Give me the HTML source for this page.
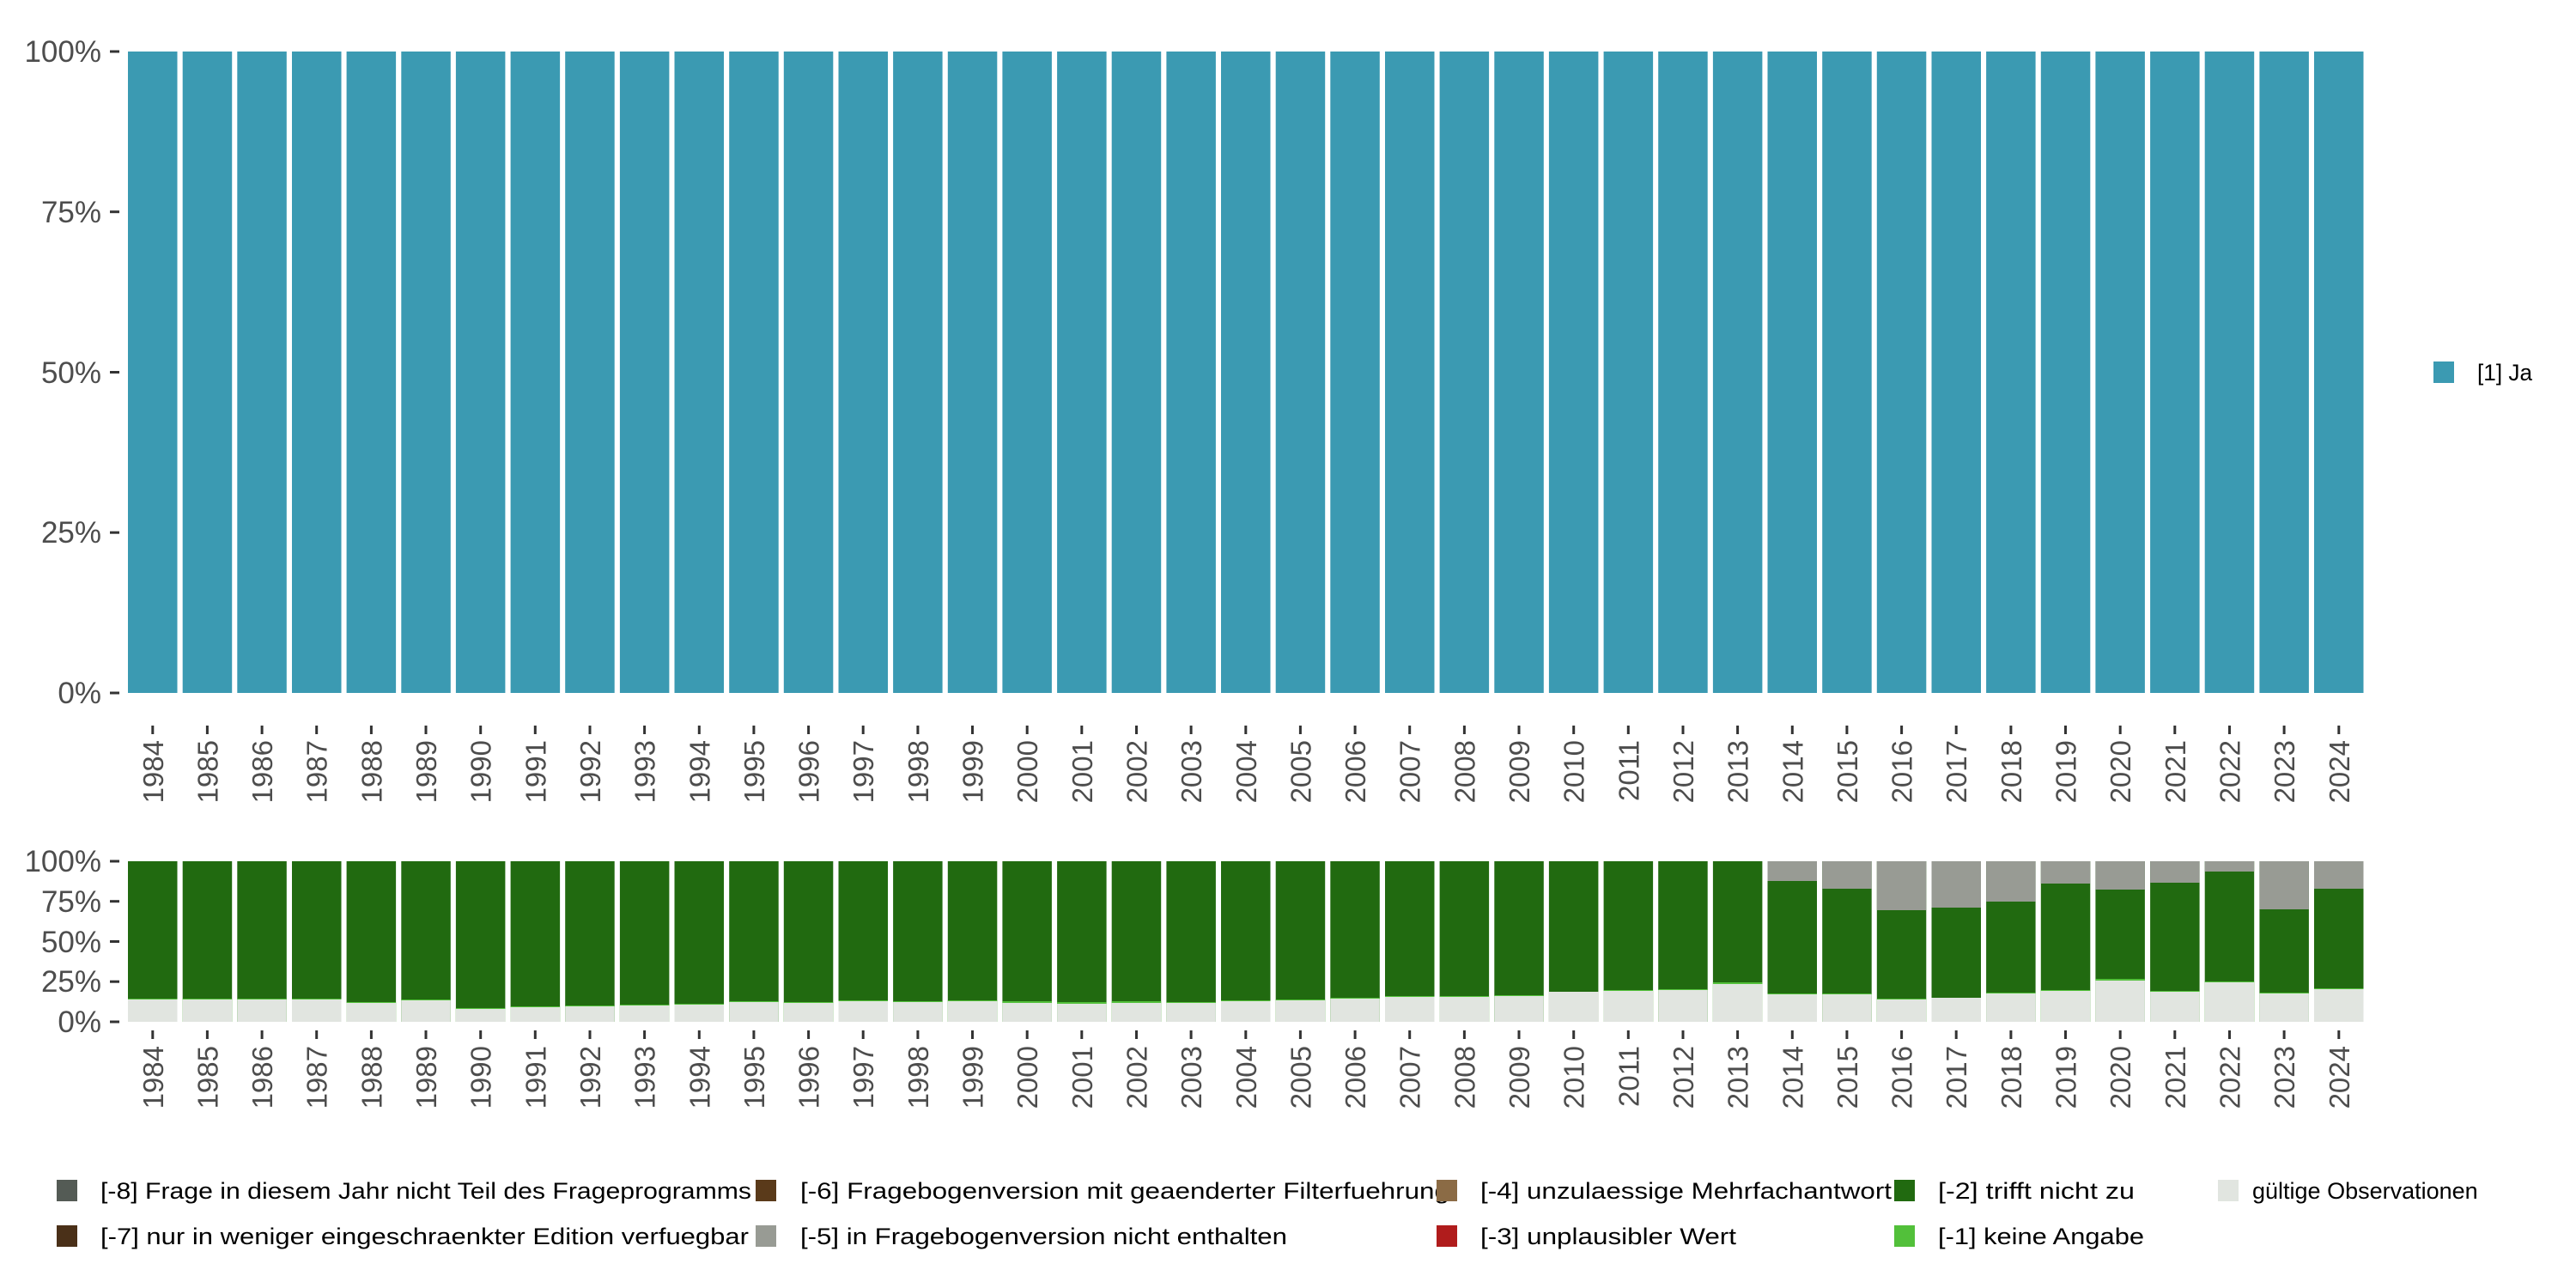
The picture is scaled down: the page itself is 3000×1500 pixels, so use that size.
<!DOCTYPE html>
<html><head><meta charset="utf-8"><style>
html,body{margin:0;padding:0;background:#fff;}
svg{display:block;font-family:"Liberation Sans",sans-serif;}
.yl{font-size:35px;fill:#4d4d4d;text-anchor:end;}
.xl{font-size:33px;fill:#4d4d4d;text-anchor:end;}
.lg{font-size:27px;fill:#000;}
</style></head><body>
<svg width="3000" height="1500" viewBox="0 0 3000 1500" xmlns="http://www.w3.org/2000/svg">
<defs>
<rect id="tb" x="0" y="60" width="57.5" height="747" fill="#3b9ab2"/>
<rect id="bg" x="0" y="1003" width="57.5" height="187" fill="#216a10"/>
<rect id="tk1" x="-1.5" y="845" width="3" height="10" fill="#333"/>
<rect id="tk2" x="-1.5" y="1200" width="3" height="10" fill="#333"/>
</defs>
<g fill="#333">
<rect x="128" y="58.5" width="11" height="3"/><rect x="128" y="245.2" width="11" height="3"/><rect x="128" y="432" width="11" height="3"/><rect x="128" y="618.7" width="11" height="3"/><rect x="128" y="805.5" width="11" height="3"/>
<rect x="128" y="1001.5" width="11" height="3"/><rect x="128" y="1048.2" width="11" height="3"/><rect x="128" y="1095" width="11" height="3"/><rect x="128" y="1141.7" width="11" height="3"/><rect x="128" y="1188.5" width="11" height="3"/>
</g>
<g class="yl">
<text x="118" y="72">100%</text><text x="118" y="259">75%</text><text x="118" y="446">50%</text><text x="118" y="632">25%</text><text x="118" y="819">0%</text>
<text x="118" y="1015">100%</text><text x="118" y="1062">75%</text><text x="118" y="1109">50%</text><text x="118" y="1155">25%</text><text x="118" y="1202">0%</text>
</g>
<g>
<use href="#tb" x="149.0"/><use href="#tb" x="212.7"/><use href="#tb" x="276.3"/><use href="#tb" x="340.0"/><use href="#tb" x="403.6"/><use href="#tb" x="467.3"/><use href="#tb" x="530.9"/><use href="#tb" x="594.6"/><use href="#tb" x="658.2"/><use href="#tb" x="721.9"/><use href="#tb" x="785.5"/><use href="#tb" x="849.2"/><use href="#tb" x="912.8"/><use href="#tb" x="976.5"/><use href="#tb" x="1040.1"/><use href="#tb" x="1103.8"/><use href="#tb" x="1167.4"/><use href="#tb" x="1231.1"/><use href="#tb" x="1294.7"/><use href="#tb" x="1358.4"/><use href="#tb" x="1422.0"/><use href="#tb" x="1485.7"/><use href="#tb" x="1549.3"/><use href="#tb" x="1613.0"/><use href="#tb" x="1676.6"/><use href="#tb" x="1740.3"/><use href="#tb" x="1803.9"/><use href="#tb" x="1867.6"/><use href="#tb" x="1931.2"/><use href="#tb" x="1994.9"/><use href="#tb" x="2058.5"/><use href="#tb" x="2122.2"/><use href="#tb" x="2185.8"/><use href="#tb" x="2249.5"/><use href="#tb" x="2313.1"/><use href="#tb" x="2376.8"/><use href="#tb" x="2440.4"/><use href="#tb" x="2504.1"/><use href="#tb" x="2567.7"/><use href="#tb" x="2631.4"/><use href="#tb" x="2695.0"/>
</g>
<g>
<use href="#bg" x="149.0"/><use href="#bg" x="212.7"/><use href="#bg" x="276.3"/><use href="#bg" x="340.0"/><use href="#bg" x="403.6"/><use href="#bg" x="467.3"/><use href="#bg" x="530.9"/><use href="#bg" x="594.6"/><use href="#bg" x="658.2"/><use href="#bg" x="721.9"/><use href="#bg" x="785.5"/><use href="#bg" x="849.2"/><use href="#bg" x="912.8"/><use href="#bg" x="976.5"/><use href="#bg" x="1040.1"/><use href="#bg" x="1103.8"/><use href="#bg" x="1167.4"/><use href="#bg" x="1231.1"/><use href="#bg" x="1294.7"/><use href="#bg" x="1358.4"/><use href="#bg" x="1422.0"/><use href="#bg" x="1485.7"/><use href="#bg" x="1549.3"/><use href="#bg" x="1613.0"/><use href="#bg" x="1676.6"/><use href="#bg" x="1740.3"/><use href="#bg" x="1803.9"/><use href="#bg" x="1867.6"/><use href="#bg" x="1931.2"/><use href="#bg" x="1994.9"/><use href="#bg" x="2058.5"/><use href="#bg" x="2122.2"/><use href="#bg" x="2185.8"/><use href="#bg" x="2249.5"/><use href="#bg" x="2313.1"/><use href="#bg" x="2376.8"/><use href="#bg" x="2440.4"/><use href="#bg" x="2504.1"/><use href="#bg" x="2567.7"/><use href="#bg" x="2631.4"/><use href="#bg" x="2695.0"/>
</g>
<g fill="#52c03a">
<rect x="149.0" y="1163" width="57.5" height="27"/><rect x="212.7" y="1163" width="57.5" height="27"/><rect x="276.3" y="1163" width="57.5" height="27"/><rect x="340.0" y="1163" width="57.5" height="27"/>
<rect x="403.6" y="1167" width="57.5" height="23"/><rect x="467.3" y="1164" width="57.5" height="26"/><rect x="530.9" y="1174" width="57.5" height="16"/><rect x="594.6" y="1172" width="57.5" height="18"/>
<rect x="658.2" y="1171" width="57.5" height="19"/><rect x="721.9" y="1170" width="57.5" height="20"/><rect x="785.5" y="1169" width="57.5" height="21"/><rect x="849.2" y="1166" width="57.5" height="24"/>
<rect x="912.8" y="1167" width="57.5" height="23"/><rect x="976.5" y="1165" width="57.5" height="25"/><rect x="1040.1" y="1166" width="57.5" height="24"/><rect x="1103.8" y="1165" width="57.5" height="25"/>
<rect x="1167.4" y="1166" width="57.5" height="24"/><rect x="1231.1" y="1167" width="57.5" height="23"/><rect x="1294.7" y="1166" width="57.5" height="24"/><rect x="1358.4" y="1167" width="57.5" height="23"/>
<rect x="1422.0" y="1165" width="57.5" height="25"/><rect x="1485.7" y="1164" width="57.5" height="26"/><rect x="1549.3" y="1162" width="57.5" height="28"/><rect x="1613.0" y="1160" width="57.5" height="30"/>
<rect x="1676.6" y="1160" width="57.5" height="30"/><rect x="1740.3" y="1159" width="57.5" height="31"/><rect x="1867.6" y="1153" width="57.5" height="37"/>
<rect x="1931.2" y="1152" width="57.5" height="38"/><rect x="1994.9" y="1144" width="57.5" height="46"/><rect x="2058.5" y="1157" width="57.5" height="33"/><rect x="2122.2" y="1157" width="57.5" height="33"/>
<rect x="2185.8" y="1163" width="57.5" height="27"/><rect x="2313.1" y="1156" width="57.5" height="34"/><rect x="2376.8" y="1153" width="57.5" height="37"/>
<rect x="2440.4" y="1140" width="57.5" height="50"/><rect x="2504.1" y="1154" width="57.5" height="36"/><rect x="2567.7" y="1143" width="57.5" height="47"/><rect x="2631.4" y="1156" width="57.5" height="34"/><rect x="2695.0" y="1151" width="57.5" height="39"/>
</g>
<g fill="#e1e5e0">
<rect x="149.0" y="1164" width="57.5" height="26"/><rect x="212.7" y="1164" width="57.5" height="26"/><rect x="276.3" y="1164" width="57.5" height="26"/><rect x="340.0" y="1164" width="57.5" height="26"/>
<rect x="403.6" y="1168" width="57.5" height="22"/><rect x="467.3" y="1165" width="57.5" height="25"/><rect x="530.9" y="1175" width="57.5" height="15"/><rect x="594.6" y="1173" width="57.5" height="17"/>
<rect x="658.2" y="1172" width="57.5" height="18"/><rect x="721.9" y="1171" width="57.5" height="19"/><rect x="785.5" y="1170" width="57.5" height="20"/><rect x="849.2" y="1167" width="57.5" height="23"/>
<rect x="912.8" y="1168" width="57.5" height="22"/><rect x="976.5" y="1166" width="57.5" height="24"/><rect x="1040.1" y="1167" width="57.5" height="23"/><rect x="1103.8" y="1166" width="57.5" height="24"/>
<rect x="1167.4" y="1168" width="57.5" height="22"/><rect x="1231.1" y="1169" width="57.5" height="21"/><rect x="1294.7" y="1168" width="57.5" height="22"/><rect x="1358.4" y="1168" width="57.5" height="22"/>
<rect x="1422.0" y="1166" width="57.5" height="24"/><rect x="1485.7" y="1165" width="57.5" height="25"/><rect x="1549.3" y="1163" width="57.5" height="27"/><rect x="1613.0" y="1161" width="57.5" height="29"/>
<rect x="1676.6" y="1161" width="57.5" height="29"/><rect x="1740.3" y="1160" width="57.5" height="30"/><rect x="1803.9" y="1155" width="57.5" height="35"/><rect x="1867.6" y="1154" width="57.5" height="36"/>
<rect x="1931.2" y="1153" width="57.5" height="37"/><rect x="1994.9" y="1146" width="57.5" height="44"/><rect x="2058.5" y="1158" width="57.5" height="32"/><rect x="2122.2" y="1158" width="57.5" height="32"/>
<rect x="2185.8" y="1164" width="57.5" height="26"/><rect x="2249.5" y="1162" width="57.5" height="28"/><rect x="2313.1" y="1157" width="57.5" height="33"/><rect x="2376.8" y="1154" width="57.5" height="36"/>
<rect x="2440.4" y="1142" width="57.5" height="48"/><rect x="2504.1" y="1155" width="57.5" height="35"/><rect x="2567.7" y="1144" width="57.5" height="46"/><rect x="2631.4" y="1157" width="57.5" height="33"/><rect x="2695.0" y="1152" width="57.5" height="38"/>
</g>
<g fill="#989b94">
<rect x="2058.5" y="1003" width="57.5" height="23"/><rect x="2122.2" y="1003" width="57.5" height="32"/><rect x="2185.8" y="1003" width="57.5" height="57"/><rect x="2249.5" y="1003" width="57.5" height="54"/>
<rect x="2313.1" y="1003" width="57.5" height="47"/><rect x="2376.8" y="1003" width="57.5" height="26"/><rect x="2440.4" y="1003" width="57.5" height="33"/><rect x="2504.1" y="1003" width="57.5" height="25"/>
<rect x="2567.7" y="1003" width="57.5" height="12"/><rect x="2631.4" y="1003" width="57.5" height="56"/><rect x="2695.0" y="1003" width="57.5" height="32"/>
</g>
<g>
<use href="#tk1" x="177.8"/><use href="#tk1" x="241.4"/><use href="#tk1" x="305.1"/><use href="#tk1" x="368.7"/><use href="#tk1" x="432.4"/><use href="#tk1" x="496.0"/><use href="#tk1" x="559.7"/><use href="#tk1" x="623.3"/><use href="#tk1" x="687.0"/><use href="#tk1" x="750.6"/><use href="#tk1" x="814.3"/><use href="#tk1" x="877.9"/><use href="#tk1" x="941.6"/><use href="#tk1" x="1005.2"/><use href="#tk1" x="1068.9"/><use href="#tk1" x="1132.5"/><use href="#tk1" x="1196.2"/><use href="#tk1" x="1259.8"/><use href="#tk1" x="1323.5"/><use href="#tk1" x="1387.1"/><use href="#tk1" x="1450.8"/><use href="#tk1" x="1514.4"/><use href="#tk1" x="1578.1"/><use href="#tk1" x="1641.7"/><use href="#tk1" x="1705.4"/><use href="#tk1" x="1769.0"/><use href="#tk1" x="1832.7"/><use href="#tk1" x="1896.3"/><use href="#tk1" x="1960.0"/><use href="#tk1" x="2023.6"/><use href="#tk1" x="2087.3"/><use href="#tk1" x="2150.9"/><use href="#tk1" x="2214.6"/><use href="#tk1" x="2278.2"/><use href="#tk1" x="2341.9"/><use href="#tk1" x="2405.5"/><use href="#tk1" x="2469.2"/><use href="#tk1" x="2532.8"/><use href="#tk1" x="2596.5"/><use href="#tk1" x="2660.1"/><use href="#tk1" x="2723.8"/>
<use href="#tk2" x="177.8"/><use href="#tk2" x="241.4"/><use href="#tk2" x="305.1"/><use href="#tk2" x="368.7"/><use href="#tk2" x="432.4"/><use href="#tk2" x="496.0"/><use href="#tk2" x="559.7"/><use href="#tk2" x="623.3"/><use href="#tk2" x="687.0"/><use href="#tk2" x="750.6"/><use href="#tk2" x="814.3"/><use href="#tk2" x="877.9"/><use href="#tk2" x="941.6"/><use href="#tk2" x="1005.2"/><use href="#tk2" x="1068.9"/><use href="#tk2" x="1132.5"/><use href="#tk2" x="1196.2"/><use href="#tk2" x="1259.8"/><use href="#tk2" x="1323.5"/><use href="#tk2" x="1387.1"/><use href="#tk2" x="1450.8"/><use href="#tk2" x="1514.4"/><use href="#tk2" x="1578.1"/><use href="#tk2" x="1641.7"/><use href="#tk2" x="1705.4"/><use href="#tk2" x="1769.0"/><use href="#tk2" x="1832.7"/><use href="#tk2" x="1896.3"/><use href="#tk2" x="1960.0"/><use href="#tk2" x="2023.6"/><use href="#tk2" x="2087.3"/><use href="#tk2" x="2150.9"/><use href="#tk2" x="2214.6"/><use href="#tk2" x="2278.2"/><use href="#tk2" x="2341.9"/><use href="#tk2" x="2405.5"/><use href="#tk2" x="2469.2"/><use href="#tk2" x="2532.8"/><use href="#tk2" x="2596.5"/><use href="#tk2" x="2660.1"/><use href="#tk2" x="2723.8"/>
</g>
<g class="xl">
<text transform="translate(189.8,862) rotate(-90)">1984</text><text transform="translate(253.4,862) rotate(-90)">1985</text><text transform="translate(317.1,862) rotate(-90)">1986</text><text transform="translate(380.7,862) rotate(-90)">1987</text><text transform="translate(444.4,862) rotate(-90)">1988</text><text transform="translate(508.0,862) rotate(-90)">1989</text><text transform="translate(571.7,862) rotate(-90)">1990</text><text transform="translate(635.3,862) rotate(-90)">1991</text><text transform="translate(699.0,862) rotate(-90)">1992</text><text transform="translate(762.6,862) rotate(-90)">1993</text><text transform="translate(826.3,862) rotate(-90)">1994</text><text transform="translate(889.9,862) rotate(-90)">1995</text><text transform="translate(953.6,862) rotate(-90)">1996</text><text transform="translate(1017.2,862) rotate(-90)">1997</text><text transform="translate(1080.9,862) rotate(-90)">1998</text><text transform="translate(1144.5,862) rotate(-90)">1999</text><text transform="translate(1208.2,862) rotate(-90)">2000</text><text transform="translate(1271.8,862) rotate(-90)">2001</text><text transform="translate(1335.5,862) rotate(-90)">2002</text><text transform="translate(1399.1,862) rotate(-90)">2003</text><text transform="translate(1462.8,862) rotate(-90)">2004</text><text transform="translate(1526.4,862) rotate(-90)">2005</text><text transform="translate(1590.1,862) rotate(-90)">2006</text><text transform="translate(1653.7,862) rotate(-90)">2007</text><text transform="translate(1717.4,862) rotate(-90)">2008</text><text transform="translate(1781.0,862) rotate(-90)">2009</text><text transform="translate(1844.7,862) rotate(-90)">2010</text><text transform="translate(1908.3,862) rotate(-90)">2011</text><text transform="translate(1972.0,862) rotate(-90)">2012</text><text transform="translate(2035.6,862) rotate(-90)">2013</text><text transform="translate(2099.3,862) rotate(-90)">2014</text><text transform="translate(2162.9,862) rotate(-90)">2015</text><text transform="translate(2226.6,862) rotate(-90)">2016</text><text transform="translate(2290.2,862) rotate(-90)">2017</text><text transform="translate(2353.9,862) rotate(-90)">2018</text><text transform="translate(2417.5,862) rotate(-90)">2019</text><text transform="translate(2481.2,862) rotate(-90)">2020</text><text transform="translate(2544.8,862) rotate(-90)">2021</text><text transform="translate(2608.5,862) rotate(-90)">2022</text><text transform="translate(2672.1,862) rotate(-90)">2023</text><text transform="translate(2735.8,862) rotate(-90)">2024</text>
</g>
<g class="xl">
<text transform="translate(189.8,1218) rotate(-90)">1984</text><text transform="translate(253.4,1218) rotate(-90)">1985</text><text transform="translate(317.1,1218) rotate(-90)">1986</text><text transform="translate(380.7,1218) rotate(-90)">1987</text><text transform="translate(444.4,1218) rotate(-90)">1988</text><text transform="translate(508.0,1218) rotate(-90)">1989</text><text transform="translate(571.7,1218) rotate(-90)">1990</text><text transform="translate(635.3,1218) rotate(-90)">1991</text><text transform="translate(699.0,1218) rotate(-90)">1992</text><text transform="translate(762.6,1218) rotate(-90)">1993</text><text transform="translate(826.3,1218) rotate(-90)">1994</text><text transform="translate(889.9,1218) rotate(-90)">1995</text><text transform="translate(953.6,1218) rotate(-90)">1996</text><text transform="translate(1017.2,1218) rotate(-90)">1997</text><text transform="translate(1080.9,1218) rotate(-90)">1998</text><text transform="translate(1144.5,1218) rotate(-90)">1999</text><text transform="translate(1208.2,1218) rotate(-90)">2000</text><text transform="translate(1271.8,1218) rotate(-90)">2001</text><text transform="translate(1335.5,1218) rotate(-90)">2002</text><text transform="translate(1399.1,1218) rotate(-90)">2003</text><text transform="translate(1462.8,1218) rotate(-90)">2004</text><text transform="translate(1526.4,1218) rotate(-90)">2005</text><text transform="translate(1590.1,1218) rotate(-90)">2006</text><text transform="translate(1653.7,1218) rotate(-90)">2007</text><text transform="translate(1717.4,1218) rotate(-90)">2008</text><text transform="translate(1781.0,1218) rotate(-90)">2009</text><text transform="translate(1844.7,1218) rotate(-90)">2010</text><text transform="translate(1908.3,1218) rotate(-90)">2011</text><text transform="translate(1972.0,1218) rotate(-90)">2012</text><text transform="translate(2035.6,1218) rotate(-90)">2013</text><text transform="translate(2099.3,1218) rotate(-90)">2014</text><text transform="translate(2162.9,1218) rotate(-90)">2015</text><text transform="translate(2226.6,1218) rotate(-90)">2016</text><text transform="translate(2290.2,1218) rotate(-90)">2017</text><text transform="translate(2353.9,1218) rotate(-90)">2018</text><text transform="translate(2417.5,1218) rotate(-90)">2019</text><text transform="translate(2481.2,1218) rotate(-90)">2020</text><text transform="translate(2544.8,1218) rotate(-90)">2021</text><text transform="translate(2608.5,1218) rotate(-90)">2022</text><text transform="translate(2672.1,1218) rotate(-90)">2023</text><text transform="translate(2735.8,1218) rotate(-90)">2024</text>
</g>
<rect x="2834" y="421" width="24" height="25" fill="#3b9ab2"/>
<text class="lg" x="2885" y="443" textLength="64" lengthAdjust="spacingAndGlyphs">[1] Ja</text>
<rect x="66" y="1374" width="24" height="25" fill="#545b55"/>
<text class="lg" x="117" y="1396" textLength="758" lengthAdjust="spacingAndGlyphs">[-8] Frage in diesem Jahr nicht Teil des Frageprogramms</text>
<rect x="66" y="1427" width="24" height="25" fill="#4a3018"/>
<text class="lg" x="117" y="1449" textLength="755" lengthAdjust="spacingAndGlyphs">[-7] nur in weniger eingeschraenkter Edition verfuegbar</text>
<rect x="880" y="1374" width="24" height="25" fill="#5a3a1a"/>
<text class="lg" x="932" y="1396" textLength="756" lengthAdjust="spacingAndGlyphs">[-6] Fragebogenversion mit geaenderter Filterfuehrung</text>
<rect x="880" y="1427" width="24" height="25" fill="#989b94"/>
<text class="lg" x="932" y="1449" textLength="567" lengthAdjust="spacingAndGlyphs">[-5] in Fragebogenversion nicht enthalten</text>
<rect x="1673" y="1374" width="24" height="25" fill="#8b6b45"/>
<text class="lg" x="1724" y="1396" textLength="479" lengthAdjust="spacingAndGlyphs">[-4] unzulaessige Mehrfachantwort</text>
<rect x="1673" y="1427" width="24" height="25" fill="#b01c1c"/>
<text class="lg" x="1724" y="1449" textLength="298" lengthAdjust="spacingAndGlyphs">[-3] unplausibler Wert</text>
<rect x="2206" y="1374" width="24" height="25" fill="#216a10"/>
<text class="lg" x="2257" y="1396" textLength="229" lengthAdjust="spacingAndGlyphs">[-2] trifft nicht zu</text>
<rect x="2206" y="1427" width="24" height="25" fill="#52c03a"/>
<text class="lg" x="2257" y="1449" textLength="240" lengthAdjust="spacingAndGlyphs">[-1] keine Angabe</text>
<rect x="2583" y="1374" width="24" height="25" fill="#e1e5e0"/>
<text class="lg" x="2623" y="1396">gültige Observationen</text>
</svg>
</body></html>
